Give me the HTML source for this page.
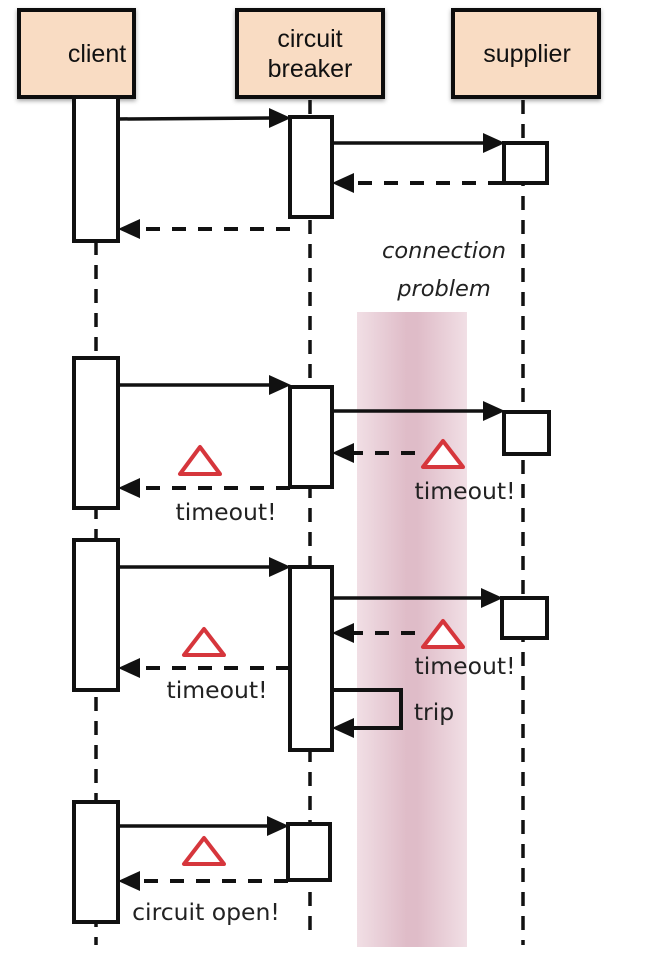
<!DOCTYPE html>
<html><head><meta charset="utf-8"><style>
html,body{margin:0;padding:0;background:#fff;}
svg{display:block;}
</style></head><body>
<svg width="660" height="980" viewBox="0 0 660 980" xmlns="http://www.w3.org/2000/svg">
<defs>
<linearGradient id="pk" x1="0" x2="1" y1="0" y2="0">
<stop offset="0" stop-color="#f1dfe5"/>
<stop offset="0.45" stop-color="#dfbcc8"/>
<stop offset="0.55" stop-color="#dfbcc8"/>
<stop offset="1" stop-color="#f1dfe5"/>
</linearGradient>
<filter id="sh"><feDropShadow dx="0" dy="2" stdDeviation="2" flood-opacity="0.35"/></filter>
</defs>
<rect x="357" y="312" width="110" height="635" fill="url(#pk)"/>
<g stroke="#111" stroke-width="4" fill="#f9dcc3" filter="url(#sh)">
<rect x="19" y="10" width="115" height="87"/>
<rect x="237" y="10" width="146" height="87"/>
<rect x="453" y="10" width="146" height="87"/>
</g>
<g font-family="Liberation Sans, sans-serif" font-size="25" fill="#111" text-anchor="middle">
<text x="97" y="62">client</text>
<text x="310" y="47">circuit</text>
<text x="310" y="77">breaker</text>
<text x="527" y="62">supplier</text>
</g>
<g stroke="#111" stroke-width="3.5" stroke-dasharray="14,10">
<line x1="96" y1="241" x2="96" y2="945"/>
<line x1="310" y1="100" x2="310" y2="940"/>
<line x1="523" y1="100" x2="523" y2="945"/>
</g>
<g stroke="#111" stroke-width="4" fill="#fff">
<rect x="74" y="97" width="44" height="144"/>
<rect x="290" y="117" width="42" height="100"/>
<rect x="504" y="143" width="43" height="40"/>
<rect x="74" y="358" width="44" height="150"/>
<rect x="290" y="387" width="42" height="100"/>
<rect x="504" y="412" width="45" height="42"/>
<rect x="74" y="540" width="44" height="150"/>
<rect x="290" y="567" width="42" height="183"/>
<rect x="502" y="598" width="45" height="40"/>
<rect x="74" y="802" width="44" height="120"/>
<rect x="288" y="824" width="42" height="56"/>
</g>
<g stroke="#111" stroke-width="3.5" fill="none">
<line x1="118" y1="119" x2="272" y2="118"/>
<line x1="332" y1="143" x2="486" y2="143"/>
<line x1="118" y1="385" x2="272" y2="385"/>
<line x1="332" y1="411" x2="486" y2="411"/>
<line x1="118" y1="567" x2="272" y2="567"/>
<line x1="332" y1="598" x2="484" y2="598"/>
<line x1="118" y1="826" x2="270" y2="826"/>
<polyline points="332,690 401,690 401,728 350,728" stroke-width="4"/>
</g>
<g stroke="#111" stroke-width="4" stroke-dasharray="14,12" fill="none">
<line x1="502" y1="183" x2="350" y2="183"/>
<line x1="290" y1="229" x2="138" y2="229"/>
<line x1="415" y1="453" x2="350" y2="453"/>
<line x1="290" y1="488" x2="138" y2="488"/>
<line x1="415" y1="633" x2="350" y2="633"/>
<line x1="290" y1="668" x2="138" y2="668"/>
<line x1="288" y1="881" x2="138" y2="881"/>
</g>
<g fill="#111">
<polygon points="291,118 269,108 269,128"/>
<polygon points="505,143 483,133 483,153"/>
<polygon points="332,183 354,173 354,193"/>
<polygon points="118,229 140,219 140,239"/>
<polygon points="291,385 269,375 269,395"/>
<polygon points="505,411 483,401 483,421"/>
<polygon points="332,453 354,443 354,463"/>
<polygon points="118,488 140,478 140,498"/>
<polygon points="291,567 269,557 269,577"/>
<polygon points="503,598 481,588 481,608"/>
<polygon points="332,633 354,623 354,643"/>
<polygon points="118,668 140,658 140,678"/>
<polygon points="332,728 354,718 354,738"/>
<polygon points="289,826 267,816 267,836"/>
<polygon points="118,881 140,871 140,891"/>
</g>
<g stroke="#d6363c" stroke-width="4" fill="#fff" stroke-linejoin="round">
<polygon points="200,447 180,474 220,474"/>
<polygon points="443,441 423,467 463,467"/>
<polygon points="204,629 184,655 224,655"/>
<polygon points="443,621 423,647 463,647"/>
<polygon points="204,838 184,864 224,864"/>
</g>
<g font-family="DejaVu Sans, sans-serif" font-size="23.5" fill="#222" text-anchor="middle">
<text x="444" y="258" font-style="italic" font-size="22.5">connection</text>
<text x="444" y="296" font-style="italic" font-size="22.5">problem</text>
<text x="465" y="499">timeout!</text>
<text x="226" y="520">timeout!</text>
<text x="465" y="674">timeout!</text>
<text x="217" y="698">timeout!</text>
<text x="434" y="720">trip</text>
<text x="206" y="920">circuit open!</text>
</g>
</svg>
</body></html>
